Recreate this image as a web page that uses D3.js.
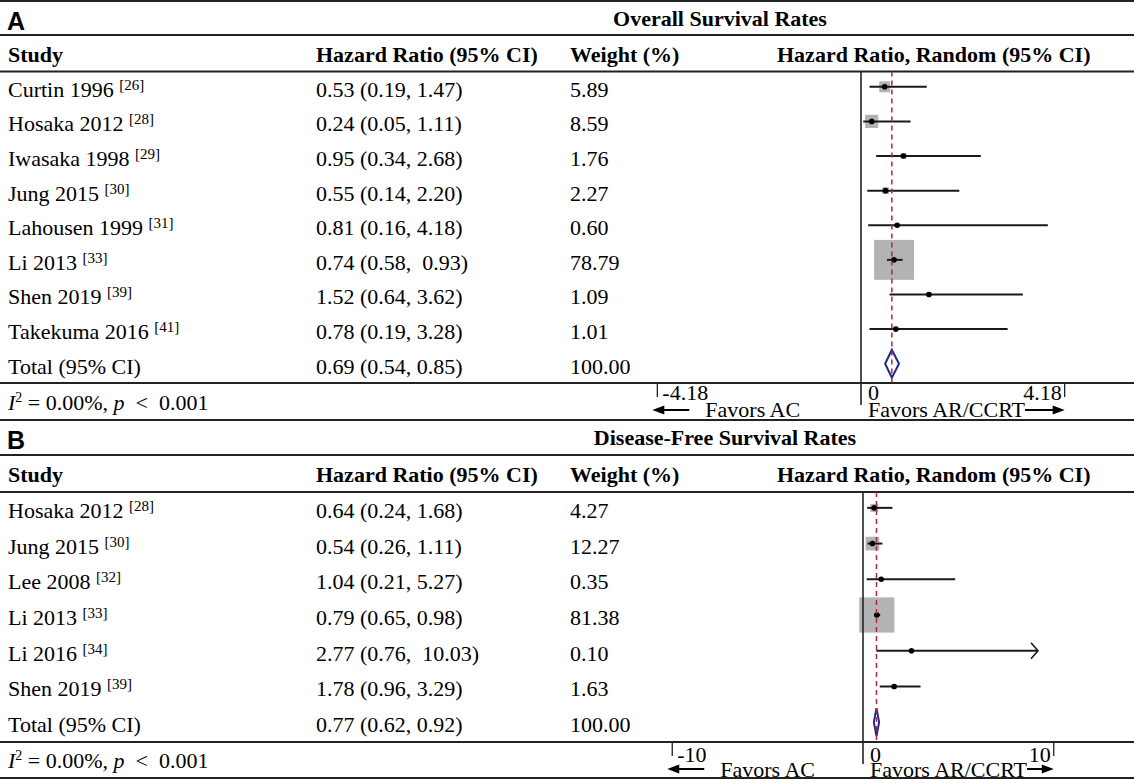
<!DOCTYPE html>
<html>
<head>
<meta charset="utf-8">
<script src="https://cdn.jsdelivr.net/npm/d3@7"></script>
<style>
  body { margin: 0; background: #fff; }
  text { font-family: "Liberation Serif", "Times New Roman", serif; white-space: pre; }
</style>
</head>
<body>
<div id="chart"></div>
<script>
// Panel A - overall survival
var studiesA = ["Curtin 1996", "Hosaka 2012", "Iwasaka 1998", "Jung 2015", "Lahousen 1999", "Li 2013", "Shen 2019", "Takekuma 2016"];
var refsA = ["26", "28", "29", "30", "31", "33", "39", "41"];
var hrA = [0.53, 0.24, 0.95, 0.55, 0.81, 0.74, 1.52, 0.78];
var lowA = [0.19, 0.05, 0.34, 0.14, 0.16, 0.58, 0.64, 0.19];
var highA = [1.47, 1.11, 2.68, 2.20, 4.18, 0.93, 3.62, 3.28];
var weightA = [5.89, 8.59, 1.76, 2.27, 0.60, 78.79, 1.09, 1.01];
var wideGapA = [0, 0, 0, 0, 0, 1, 0, 0];
var totalA = [0.69, 0.54, 0.85];
var axisMaxA = 4.18;
var tickLabelsA = ["-4.18", "0", "4.18"];

// Panel B - disease-free survival
var studiesB = ["Hosaka 2012", "Jung 2015", "Lee 2008", "Li 2013", "Li 2016", "Shen 2019"];
var refsB = ["28", "30", "32", "33", "34", "39"];
var hrB = [0.64, 0.54, 1.04, 0.79, 2.77, 1.78];
var lowB = [0.24, 0.26, 0.21, 0.65, 0.76, 0.96];
var highB = [1.68, 1.11, 5.27, 0.98, 10.03, 3.29];
var weightB = [4.27, 12.27, 0.35, 81.38, 0.10, 1.63];
var wideGapB = [0, 0, 0, 0, 1, 0];
var totalB = [0.77, 0.62, 0.92];
var axisMaxB = 10;
var tickLabelsB = ["-10", "0", "10"];

var svgWidth = 1134;
var svgHeight = 780;

var svg = d3.select("#chart")
  .append("svg")
  .attr("width", svgWidth)
  .attr("height", svgHeight);

var fmt = d3.format(".2f");
var ink = "#222";

function drawPanel(p) {
  var g = svg.append("g");
  var rows = p.studies.concat(["Total (95% CI)"]);

  var y = d3.scaleBand()
    .domain(d3.range(rows.length))
    .range([p.yHead, p.yRows]);
  var bw = y.bandwidth();

  // data scale (HR) and the slightly wider scale used for the axis ticks
  var x = d3.scaleLinear()
    .domain([0, p.axisMax])
    .range([p.zero, p.zero + p.k * p.axisMax]);
  var xTick = d3.scaleLinear()
    .domain([-p.axisMax, p.axisMax])
    .range([p.zero - p.k * p.axisMax * 1.09, p.zero + p.k * p.axisMax * 1.09]);
  var side = d3.scaleSqrt().domain([0, 100]).range([0, p.sq * 10]);

  // table rules
  g.selectAll("line.rule")
    .data([p.yTop, p.yTitle, p.yHead, p.yRows, p.yFoot])
    .enter()
    .append("line")
    .attr("x1", 0).attr("x2", svgWidth)
    .attr("y1", d => d).attr("y2", d => d)
    .attr("stroke", ink)
    .attr("stroke-width", 2);

  // panel letter + title
  g.append("text")
    .attr("x", 7).attr("y", p.yTop + 29)
    .style("font-family", "'Liberation Sans', Arial, sans-serif")
    .style("font-weight", "bold")
    .style("font-size", "25px")
    .text(p.letter);

  g.append("text")
    .attr("x", p.titleX).attr("y", p.yTop + 25)
    .attr("text-anchor", "middle")
    .style("font-weight", "bold")
    .style("font-size", "22px")
    .text(p.title);

  // column headers
  var headers = [["Study", 8], ["Hazard Ratio (95% CI)", 316], ["Weight (%)", 570], ["Hazard Ratio, Random (95% CI)", 777]];
  g.selectAll("text.head")
    .data(headers)
    .enter()
    .append("text")
    .attr("x", d => d[1])
    .attr("y", p.yHead - 10)
    .style("font-weight", "bold")
    .style("font-size", "22px")
    .text(d => d[0]);

  // study rows
  rows.forEach(function(name, i) {
    var base = y(i) + bw / 2 + 8;
    var isTotal = i === p.studies.length;
    var lab = g.append("text")
      .attr("x", 8).attr("y", base)
      .style("font-size", "22px")
      .text(name + (isTotal ? "" : " "));
    if (!isTotal) {
      lab.append("tspan")
        .attr("dy", -7)
        .style("font-size", "15px")
        .text("[" + p.refs[i] + "]");
    }
    var hr = isTotal ? p.total[0] : p.hr[i];
    var lo = isTotal ? p.total[1] : p.low[i];
    var hi = isTotal ? p.total[2] : p.high[i];
    var gap = (!isTotal && p.wideGap[i]) ? ",  " : ", ";
    g.append("text")
      .attr("x", 316).attr("y", base)
      .style("font-size", "22px")
      .text(fmt(hr) + " (" + fmt(lo) + gap + fmt(hi) + ")");
    g.append("text")
      .attr("x", 570).attr("y", base)
      .style("font-size", "22px")
      .text(fmt(isTotal ? 100 : p.weight[i]));
  });

  // footer heterogeneity line
  var foot = g.append("text")
    .attr("x", 8).attr("y", (p.yRows + p.yFoot) / 2 + 8)
    .style("font-size", "22px");
  foot.append("tspan").style("font-style", "italic").text("I");
  foot.append("tspan").attr("dy", -8).style("font-size", "14px").text("2");
  foot.append("tspan").attr("dy", 8).text(" = 0.00%, ");
  foot.append("tspan").style("font-style", "italic").text("p");
  foot.append("tspan").text("  <  0.001");

  // forest marks
  var cy = i => y(i) + bw / 2 - 2;
  var idx = d3.range(p.studies.length);

  g.selectAll("rect.box")
    .data(idx)
    .enter()
    .append("rect")
    .attr("x", i => x(p.hr[i]) - side(p.weight[i]) / 2)
    .attr("y", i => cy(i) - side(p.weight[i]) / 2)
    .attr("width", i => side(p.weight[i]))
    .attr("height", i => side(p.weight[i]))
    .attr("fill", "#b3b3b3");

  g.selectAll("line.ci")
    .data(idx)
    .enter()
    .append("line")
    .attr("x1", i => x(p.low[i]))
    .attr("x2", i => x(Math.min(p.high[i], p.axisMax)))
    .attr("y1", cy).attr("y2", cy)
    .attr("stroke", "#1a1a1a")
    .attr("stroke-width", 2);

  // open arrow for CIs that run past the axis
  g.selectAll("path.clip")
    .data(idx.filter(i => p.high[i] > p.axisMax))
    .enter()
    .append("path")
    .attr("d", i => {
      var ex = x(p.axisMax), ey = cy(i);
      return "M" + (ex - 7) + "," + (ey - 8) + "L" + ex + "," + ey + "L" + (ex - 7) + "," + (ey + 8);
    })
    .attr("fill", "none")
    .attr("stroke", "#1a1a1a")
    .attr("stroke-width", 1.6);

  g.selectAll("circle.pt")
    .data(idx)
    .enter()
    .append("circle")
    .attr("cx", i => x(p.hr[i]))
    .attr("cy", cy)
    .attr("r", 2.8)
    .attr("fill", "#000");

  // pooled diamond
  var ti = p.studies.length;
  var dy = cy(ti);
  g.append("path")
    .attr("d", "M" + x(p.total[1]) + "," + dy +
      "L" + x(p.total[0]) + "," + (dy - 14) +
      "L" + x(p.total[2]) + "," + dy +
      "L" + x(p.total[0]) + "," + (dy + 14) + "Z")
    .attr("fill", "#fff")
    .attr("stroke", "#1c2a8c")
    .attr("stroke-width", 2);

  // zero line
  g.append("line")
    .attr("x1", x(0)).attr("x2", x(0))
    .attr("y1", p.yHead).attr("y2", p.yRows + 22)
    .attr("stroke", ink)
    .attr("stroke-width", 1.6);

  // pooled estimate reference line
  g.append("line")
    .attr("x1", x(p.total[0])).attr("x2", x(p.total[0]))
    .attr("y1", p.yHead).attr("y2", p.yRows)
    .attr("stroke", "#b0283c")
    .attr("stroke-width", 1.5)
    .attr("stroke-dasharray", "5,4");

  // axis ticks and labels
  var tickVals = [-p.axisMax, 0, p.axisMax];
  g.selectAll("line.tick")
    .data([tickVals[0], tickVals[2]])
    .enter()
    .append("line")
    .attr("x1", d => xTick(d)).attr("x2", d => xTick(d))
    .attr("y1", p.yRows + 1).attr("y2", p.yRows + 14)
    .attr("stroke", ink)
    .attr("stroke-width", 1.3);

  var tl = p.yRows + p.tickDy;
  g.append("text").attr("x", xTick(tickVals[0]) + 5).attr("y", tl)
    .style("font-size", "22px").text(p.tickLabels[0]);
  g.append("text").attr("x", x(0) + 7).attr("y", tl)
    .style("font-size", "22px").text(p.tickLabels[1]);
  g.append("text").attr("x", xTick(tickVals[2]) - 3).attr("y", tl)
    .attr("text-anchor", "end")
    .style("font-size", "22px").text(p.tickLabels[2]);

  var fl = p.yRows + p.favDy;
  var ay = p.yRows + 27;
  var leftTick = xTick(tickVals[0]);
  var rightTick = xTick(tickVals[2]);

  g.append("text").attr("x", leftTick + 48).attr("y", fl)
    .style("font-size", "22px").text("Favors AC");
  var favR = g.append("text").attr("x", x(0) + 7).attr("y", fl)
    .style("font-size", "22px").text("Favors AR/CCRT");
  var favEnd = x(0) + 7 + favR.node().getComputedTextLength();

  // left arrow
  g.append("line")
    .attr("x1", leftTick + 4).attr("x2", leftTick + 32)
    .attr("y1", ay).attr("y2", ay)
    .attr("stroke", "#000").attr("stroke-width", 2);
  g.append("path")
    .attr("d", "M" + (leftTick - 5) + "," + ay + "L" + (leftTick + 7) + "," + (ay - 4.5) + "L" + (leftTick + 7) + "," + (ay + 4.5) + "Z")
    .attr("fill", "#000");

  // right arrow
  g.append("line")
    .attr("x1", favEnd).attr("x2", rightTick - 6)
    .attr("y1", ay).attr("y2", ay)
    .attr("stroke", "#000").attr("stroke-width", 2);
  g.append("path")
    .attr("d", "M" + rightTick + "," + ay + "L" + (rightTick - 12) + "," + (ay - 4.5) + "L" + (rightTick - 12) + "," + (ay + 4.5) + "Z")
    .attr("fill", "#000");
}

drawPanel({
  letter: "A", title: "Overall Survival Rates", titleX: 720,
  studies: studiesA, refs: refsA, hr: hrA, low: lowA, high: highA,
  weight: weightA, wideGap: wideGapA, total: totalA,
  axisMax: axisMaxA, tickLabels: tickLabelsA,
  zero: 861, k: 44.7, sq: 4.5,
  yTop: 1, yTitle: 35, yHead: 71.5, yRows: 383, yFoot: 420,
  tickDy: 17, favDy: 34
});

drawPanel({
  letter: "B", title: "Disease-Free Survival Rates", titleX: 725,
  studies: studiesB, refs: refsB, hr: hrB, low: lowB, high: highB,
  weight: weightB, wideGap: wideGapB, total: totalB,
  axisMax: axisMaxB, tickLabels: tickLabelsB,
  zero: 863, k: 17.5, sq: 3.9,
  yTop: 420, yTitle: 455, yHead: 492, yRows: 742, yFoot: 778,
  tickDy: 20, favDy: 35
});
</script>
</body>
</html>
